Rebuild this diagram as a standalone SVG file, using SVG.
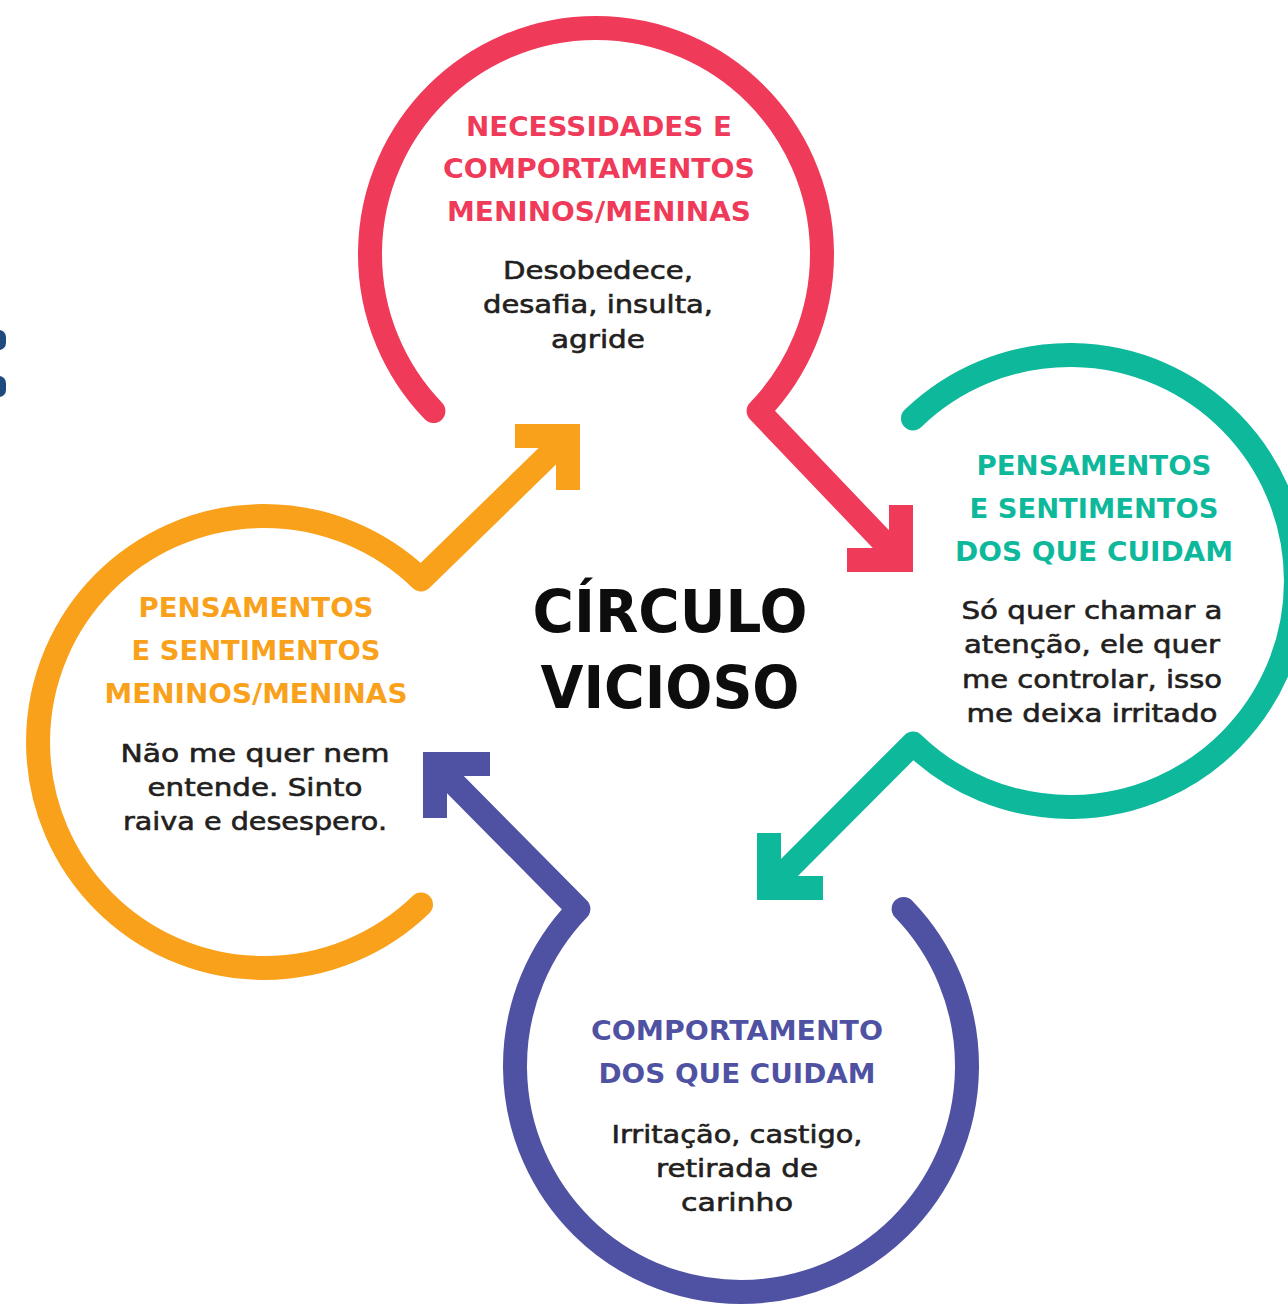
<svg xmlns="http://www.w3.org/2000/svg" width="1288" height="1305" viewBox="0 0 1288 1305">
<style>
.ring{fill:none;stroke-width:24;stroke-linecap:round;stroke-linejoin:round}
.head{stroke-linecap:square;stroke-linejoin:miter;fill:none;stroke-width:24}
.h{font-family:"DejaVu Sans","Liberation Sans",sans-serif;font-weight:bold;font-size:27px;text-anchor:middle}
.b{font-family:"DejaVu Sans","Liberation Sans",sans-serif;font-size:25px;text-anchor:middle;fill:#231f20;stroke:#231f20;stroke-width:0.6}
.t{font-family:"DejaVu Sans","Liberation Sans",sans-serif;font-weight:bold;font-size:58px;text-anchor:middle;fill:#0d0d0d}
.red{stroke:#ef3a5a}.teal{stroke:#0db89b}.pur{stroke:#4f52a3}.ora{stroke:#f9a11b}
</style>
<rect width="1288" height="1305" fill="#ffffff"/>
<g id="edge-marks" fill="#1f4a7c">
<rect x="-10" y="330" width="16" height="20" rx="7"/>
<rect x="-10" y="376" width="16" height="21" rx="7"/>
</g>
<g id="connectors">
<path class="ring red" d="M 433.4 411 A 226 226 0 1 1 758.6 411 L 897 556"/>
<polyline class="head red" points="859,560 901,560 901,517"/>
<path class="ring teal" d="M 913 418.4 A 226 226 0 1 1 913 743.6 L 773 884"/>
<polyline class="head teal" points="769,845 769,888 811,888"/>
<path class="ring pur" d="M 903.6 909 A 226 226 0 1 1 578.4 909 L 439 768"/>
<polyline class="head pur" points="478,764 435,764 435,806"/>
<path class="ring ora" d="M 421 904.6 A 226 226 0 1 1 421 579.4 L 564 440"/>
<polyline class="head ora" points="527,436 568,436 568,478"/>
</g>
<g id="node-necessidades">
<text class="h" fill="#ef3a5a" x="599" y="136" textLength="266" lengthAdjust="spacingAndGlyphs">NECESSIDADES E</text>
<text class="h" fill="#ef3a5a" x="599" y="178" textLength="312" lengthAdjust="spacingAndGlyphs">COMPORTAMENTOS</text>
<text class="h" fill="#ef3a5a" x="599" y="221" textLength="304" lengthAdjust="spacingAndGlyphs">MENINOS/MENINAS</text>
<text class="b" x="598" y="279" textLength="190" lengthAdjust="spacingAndGlyphs">Desobedece,</text>
<text class="b" x="598" y="313" textLength="230" lengthAdjust="spacingAndGlyphs">desafia, insulta,</text>
<text class="b" x="598" y="348" textLength="94" lengthAdjust="spacingAndGlyphs">agride</text>
</g>
<g id="node-pensamentos-cuidam">
<text class="h" fill="#0db89b" x="1094" y="475" textLength="235" lengthAdjust="spacingAndGlyphs">PENSAMENTOS</text>
<text class="h" fill="#0db89b" x="1094" y="518" textLength="249" lengthAdjust="spacingAndGlyphs">E SENTIMENTOS</text>
<text class="h" fill="#0db89b" x="1094" y="561" textLength="278" lengthAdjust="spacingAndGlyphs">DOS QUE CUIDAM</text>
<text class="b" x="1092" y="619" textLength="261" lengthAdjust="spacingAndGlyphs">Só quer chamar a</text>
<text class="b" x="1092" y="653" textLength="256" lengthAdjust="spacingAndGlyphs">atenção, ele quer</text>
<text class="b" x="1092" y="688" textLength="260" lengthAdjust="spacingAndGlyphs">me controlar, isso</text>
<text class="b" x="1092" y="722" textLength="251" lengthAdjust="spacingAndGlyphs">me deixa irritado</text>
</g>
<g id="node-comportamento-cuidam">
<text class="h" fill="#4f52a3" x="737" y="1040" textLength="292" lengthAdjust="spacingAndGlyphs">COMPORTAMENTO</text>
<text class="h" fill="#4f52a3" x="737" y="1083" textLength="277" lengthAdjust="spacingAndGlyphs">DOS QUE CUIDAM</text>
<text class="b" x="737" y="1143" textLength="251" lengthAdjust="spacingAndGlyphs">Irritação, castigo,</text>
<text class="b" x="737" y="1177" textLength="162" lengthAdjust="spacingAndGlyphs">retirada de</text>
<text class="b" x="737" y="1211" textLength="112" lengthAdjust="spacingAndGlyphs">carinho</text>
</g>
<g id="node-pensamentos-meninos">
<text class="h" fill="#f9a11b" x="256" y="617" textLength="235" lengthAdjust="spacingAndGlyphs">PENSAMENTOS</text>
<text class="h" fill="#f9a11b" x="256" y="660" textLength="249" lengthAdjust="spacingAndGlyphs">E SENTIMENTOS</text>
<text class="h" fill="#f9a11b" x="256" y="703" textLength="303" lengthAdjust="spacingAndGlyphs">MENINOS/MENINAS</text>
<text class="b" x="255" y="762" textLength="269" lengthAdjust="spacingAndGlyphs">Não me quer nem</text>
<text class="b" x="255" y="796" textLength="215" lengthAdjust="spacingAndGlyphs">entende. Sinto</text>
<text class="b" x="255" y="830" textLength="264" lengthAdjust="spacingAndGlyphs">raiva e desespero.</text>
</g>
<g id="title">
<text class="t" x="670" y="632" textLength="275" lengthAdjust="spacingAndGlyphs">CÍRCULO</text>
<text class="t" x="670" y="708" textLength="259" lengthAdjust="spacingAndGlyphs">VICIOSO</text>
</g>
</svg>
